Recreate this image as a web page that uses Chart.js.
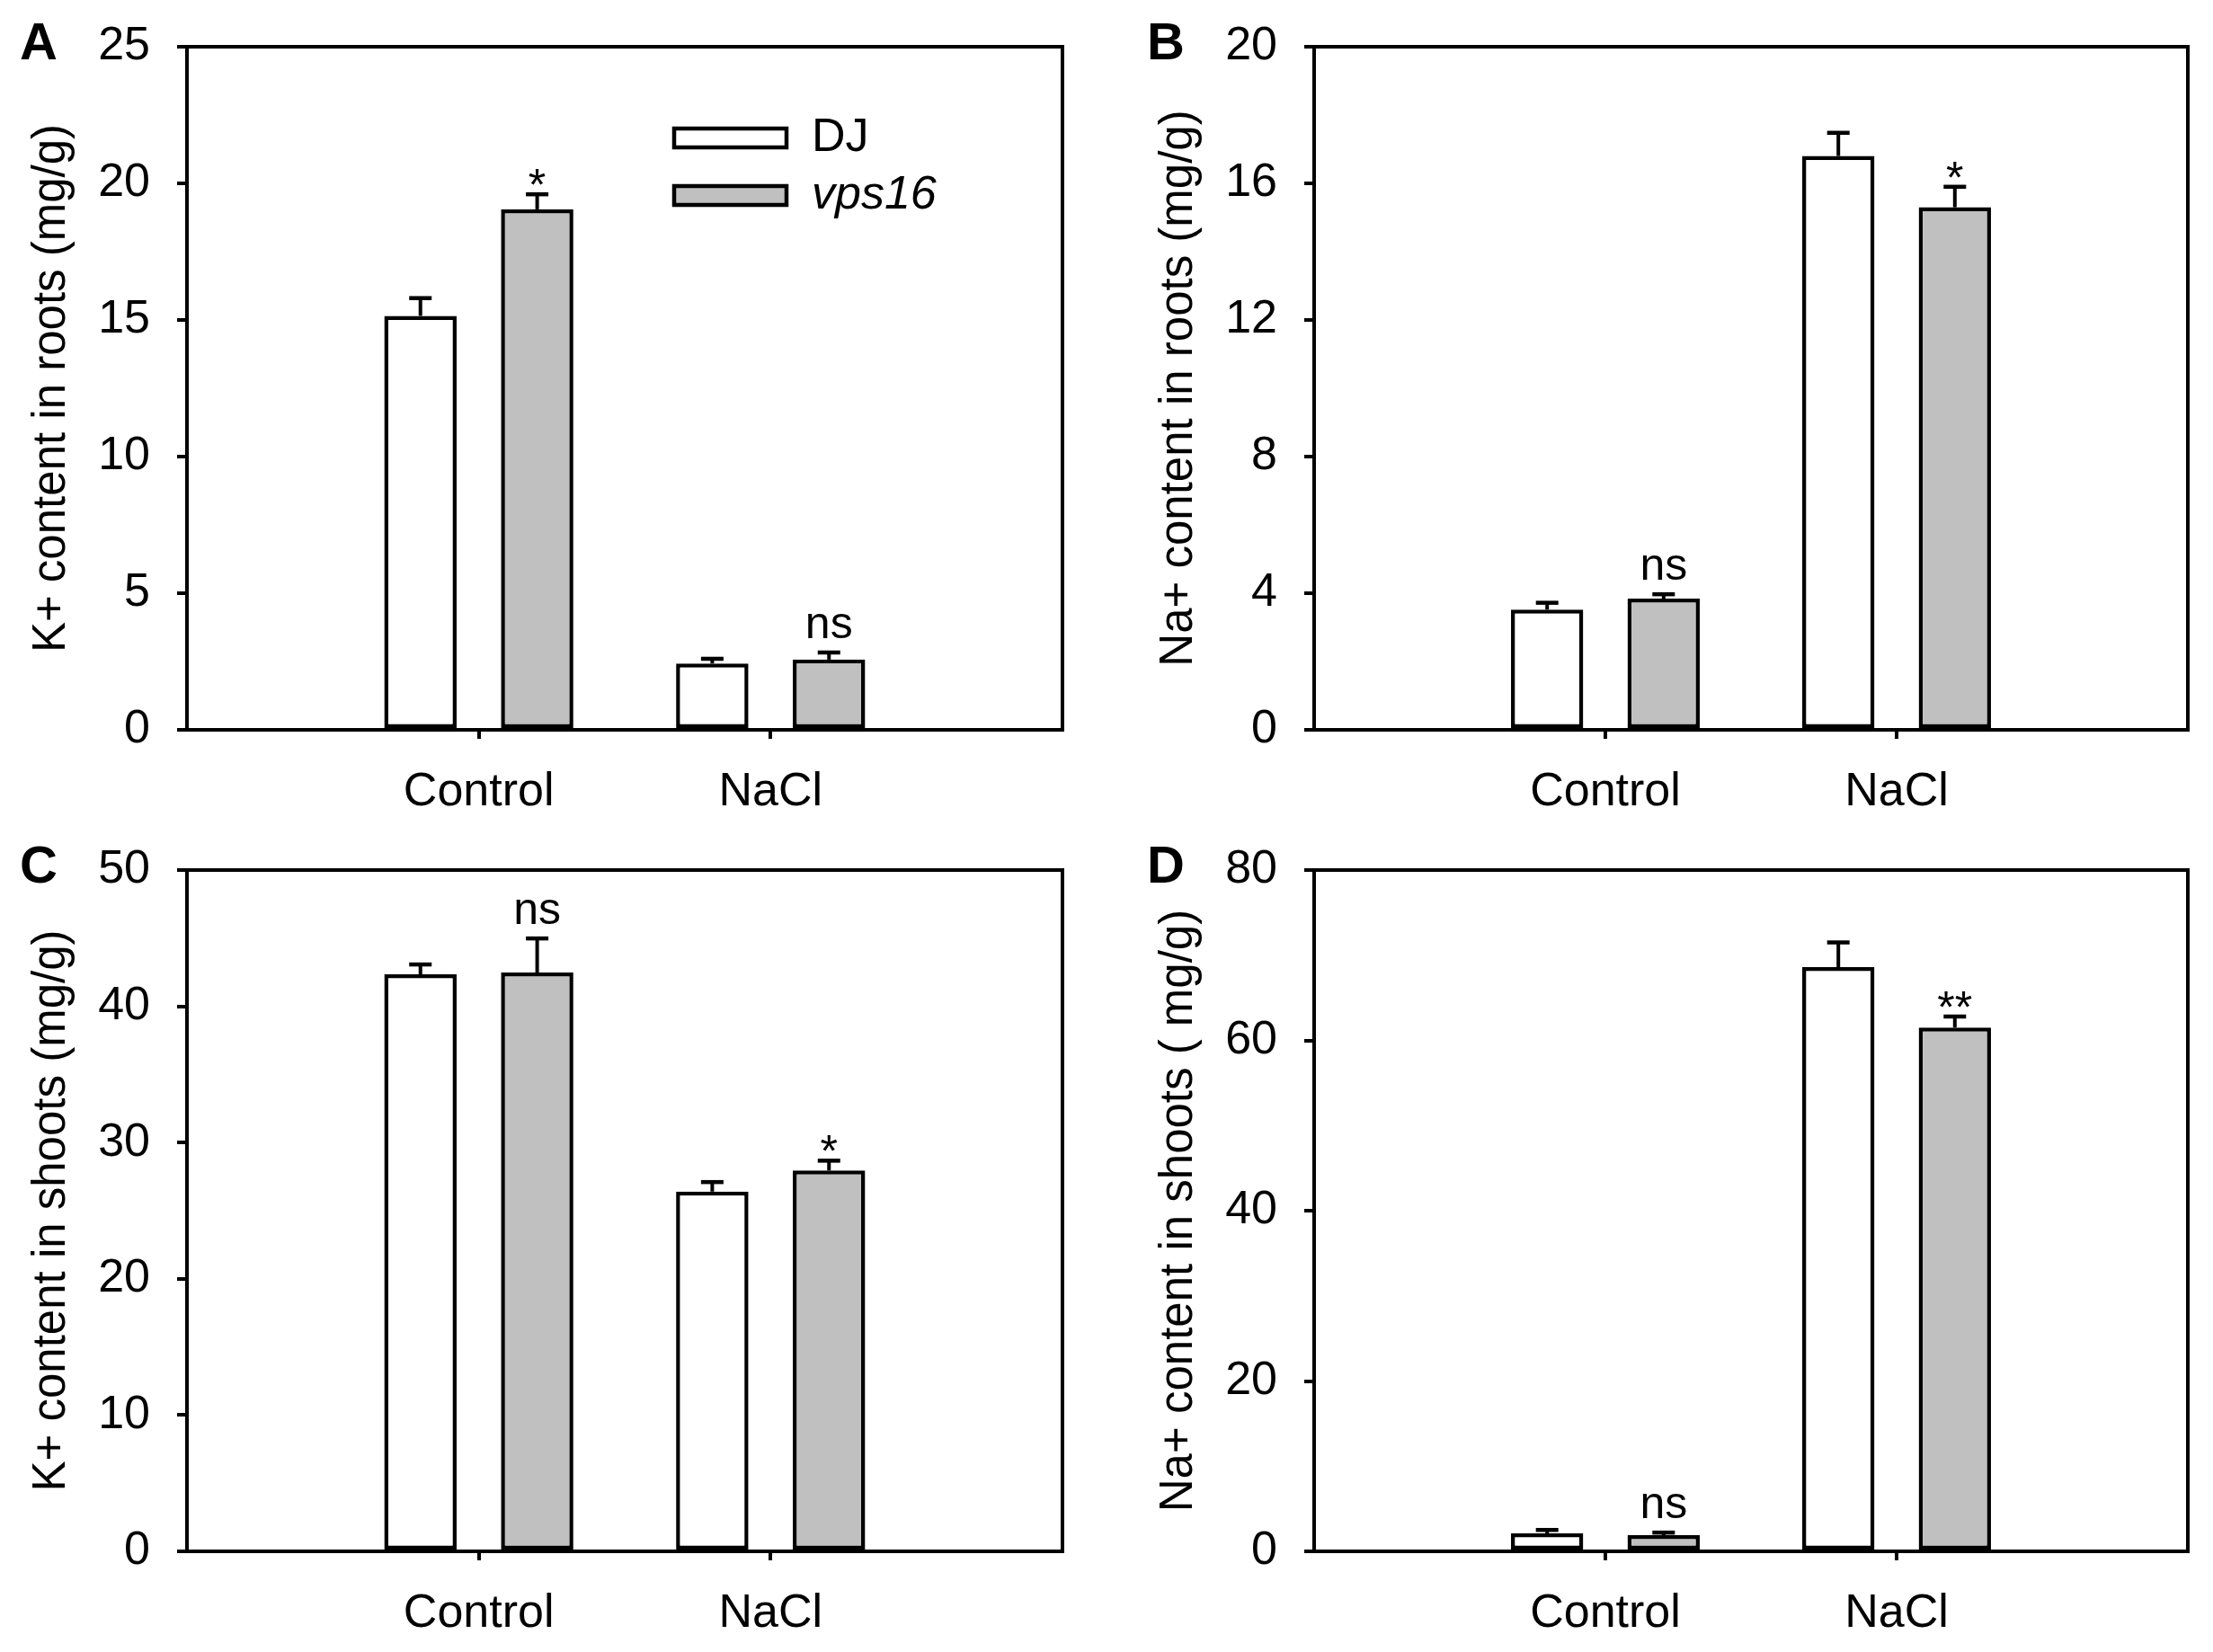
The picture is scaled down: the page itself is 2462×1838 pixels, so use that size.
<!DOCTYPE html>
<html>
<head>
<meta charset="utf-8">
<script src="https://cdn.jsdelivr.net/npm/chart.js@4.4.0/dist/chart.umd.min.js"></script>
<style>
  html, body { margin: 0; padding: 0; background: #fff; }
  #wrap { position: relative; width: 2462px; height: 1838px; }
  canvas { position: absolute; left: 0; top: 0; }
</style>
</head>
<body>
<div id="wrap">
  <canvas id="pA" width="2462" height="1838"></canvas>
  <canvas id="pB" width="2462" height="1838"></canvas>
  <canvas id="pC" width="2462" height="1838"></canvas>
  <canvas id="pD" width="2462" height="1838"></canvas>
</div>
<script>
// grupos e series
const groups = ["Control", "NaCl"];
const seriesNames = ["DJ", "vps16"];

// A - K+ nas raizes
const kRootsDJ = [15.15, 2.43];
const kRootsDJErr = [0.65, 0.17];
const kRootsVps = [19.05, 2.57];
const kRootsVpsErr = [0.55, 0.26];
const kRootsSig = ["*", "ns"];

// B - Na+ nas raizes
const naRootsDJ = [3.52, 16.8];
const naRootsDJErr = [0.2, 0.68];
const naRootsVps = [3.84, 15.3];
const naRootsVpsErr = [0.13, 0.6];
const naRootsSig = ["ns", "*"];

// C - K+ na parte aerea
const kShootsDJ = [42.35, 26.4];
const kShootsDJErr = [0.72, 0.7];
const kShootsVps = [42.48, 27.95];
const kShootsVpsErr = [2.5, 0.72];
const kShootsSig = ["ns", "*"];

// D - Na+ na parte aerea
const naShootsDJ = [2.11, 68.6];
const naShootsDJErr = [0.4, 2.9];
const naShootsVps = [1.9, 61.5];
const naShootsVpsErr = [0.3, 1.3];
const naShootsSig = ["ns", "**"];

const FONT = "'Liberation Sans', Arial, Helvetica, sans-serif";
const W = 2462, H = 1838;
const Y_AXIS_W = 208, X_AXIS_H = 107;

// categorias vazias nas pontas para os grupos ficarem em 1/3 e 2/3
const labels = ["", ...groups, ""];
const pad = arr => [null, ...arr, null];

const decor = {
  id: "decor",
  afterDatasetsDraw(chart) {
    const ctx = chart.ctx, y = chart.scales.y;
    ctx.save();
    ctx.strokeStyle = "#000";
    ctx.fillStyle = "#000";
    chart.data.datasets.forEach((ds, i) => {
      chart.getDatasetMeta(i).data.forEach((bar, j) => {
        const v = ds.data[j];
        if (v == null) return;
        const top = y.getPixelForValue(v + ds.err[j]);
        ctx.lineWidth = 4;
        ctx.beginPath();
        ctx.moveTo(bar.x, bar.y);
        ctx.lineTo(bar.x, top);
        ctx.stroke();
        ctx.lineWidth = 4.5;
        ctx.beginPath();
        ctx.moveTo(bar.x - 12.5, top);
        ctx.lineTo(bar.x + 12.5, top);
        ctx.stroke();
        const s = ds.sig && ds.sig[j];
        if (s) {
          ctx.font = "50px " + FONT;
          ctx.textAlign = "center";
          ctx.textBaseline = "alphabetic";
          ctx.fillText(s, bar.x, s === "ns" ? top - 16 : top + 7);
        }
      });
    });
    ctx.restore();
  },
  afterDraw(chart, args, opts) {
    const ctx = chart.ctx, a = chart.chartArea;
    ctx.save();
    // moldura
    ctx.strokeStyle = "#000";
    ctx.lineWidth = 4;
    ctx.strokeRect(a.left, a.top, a.right - a.left, a.bottom - a.top);
    // letra do painel
    ctx.fillStyle = "#000";
    ctx.font = "bold 58px " + FONT;
    ctx.textAlign = "left";
    ctx.textBaseline = "alphabetic";
    ctx.fillText(opts.letter, a.left - 186, a.top + 14);
    // legenda
    if (opts.legend) {
      chart.data.datasets.forEach((ds, i) => {
        const bx = a.left + 542, by = a.top + 91 + i * 64;
        ctx.fillStyle = ds.backgroundColor;
        ctx.fillRect(bx, by, 125, 21);
        ctx.lineWidth = 4.5;
        ctx.strokeRect(bx, by, 125, 21);
        ctx.fillStyle = "#000";
        ctx.font = (i === 1 ? "italic " : "") + "52px " + FONT;
        ctx.textBaseline = "middle";
        ctx.fillText(ds.label, bx + 153, by + 11);
      });
    }
    ctx.restore();
  }
};

function panel(id, letter, box, yMax, yStep, title, dj, djErr, vps, vpsErr, sig, legend) {
  new Chart(document.getElementById(id), {
    type: "bar",
    data: {
      labels: labels,
      datasets: [{
        label: seriesNames[0],
        data: pad(dj),
        err: pad(djErr),
        backgroundColor: "#ffffff",
        borderColor: "#000000",
        borderWidth: 4.5,
        borderSkipped: false
      }, {
        label: seriesNames[1],
        data: pad(vps),
        err: pad(vpsErr),
        sig: pad(sig),
        backgroundColor: "#c0c0c0",
        borderColor: "#000000",
        borderWidth: 4.5,
        borderSkipped: false
      }]
    },
    options: {
      responsive: false,
      animation: false,
      devicePixelRatio: 1,
      categoryPercentage: 0.8,
      barPercentage: 0.62,
      layout: {
        padding: {
          left: box.l - Y_AXIS_W,
          top: box.t,
          right: W - box.r,
          bottom: H - box.b - X_AXIS_H
        }
      },
      plugins: {
        legend: { display: false },
        tooltip: { enabled: false },
        decor: { letter: letter, legend: legend }
      },
      scales: {
        x: {
          offset: false,
          border: { display: false },
          grid: {
            offset: false,
            drawOnChartArea: false,
            tickLength: 10,
            lineWidth: 4,
            color: c => (c.tick && c.tick.label) ? "#000" : "rgba(0,0,0,0)"
          },
          ticks: {
            autoSkip: false,
            maxRotation: 0,
            padding: 28,
            color: "#000",
            font: { family: FONT, size: 52 }
          },
          afterFit: s => { s.height = X_AXIS_H; }
        },
        y: {
          min: 0,
          max: yMax,
          border: { display: false },
          grid: {
            drawOnChartArea: false,
            tickLength: 11,
            lineWidth: 4,
            color: "#000"
          },
          ticks: {
            stepSize: yStep,
            padding: 30,
            color: "#000",
            font: { family: FONT, size: 52 }
          },
          title: {
            display: true,
            text: title,
            color: "#000",
            padding: { top: 27, bottom: 0 },
            font: { family: FONT, size: 51 }
          },
          afterFit: s => {
            s.width = Y_AXIS_W;
            // nao deixar os rotulos empurrarem a area do grafico
            s.paddingTop = 0;
            s.paddingBottom = 0;
          }
        }
      }
    },
    plugins: [decor]
  });
}

panel("pA", "A", { l: 208, t: 52, r: 1182, b: 812 }, 25, 5,
  "K+ content in roots (mg/g)", kRootsDJ, kRootsDJErr, kRootsVps, kRootsVpsErr, kRootsSig, true);
panel("pB", "B", { l: 1462, t: 52, r: 2434, b: 812 }, 20, 4,
  "Na+ content in roots (mg/g)", naRootsDJ, naRootsDJErr, naRootsVps, naRootsVpsErr, naRootsSig, false);
panel("pC", "C", { l: 208, t: 968, r: 1182, b: 1726 }, 50, 10,
  "K+ content in shoots (mg/g)", kShootsDJ, kShootsDJErr, kShootsVps, kShootsVpsErr, kShootsSig, false);
panel("pD", "D", { l: 1462, t: 968, r: 2434, b: 1726 }, 80, 20,
  "Na+ content in shoots ( mg/g)", naShootsDJ, naShootsDJErr, naShootsVps, naShootsVpsErr, naShootsSig, false);
</script>
</body>
</html>
